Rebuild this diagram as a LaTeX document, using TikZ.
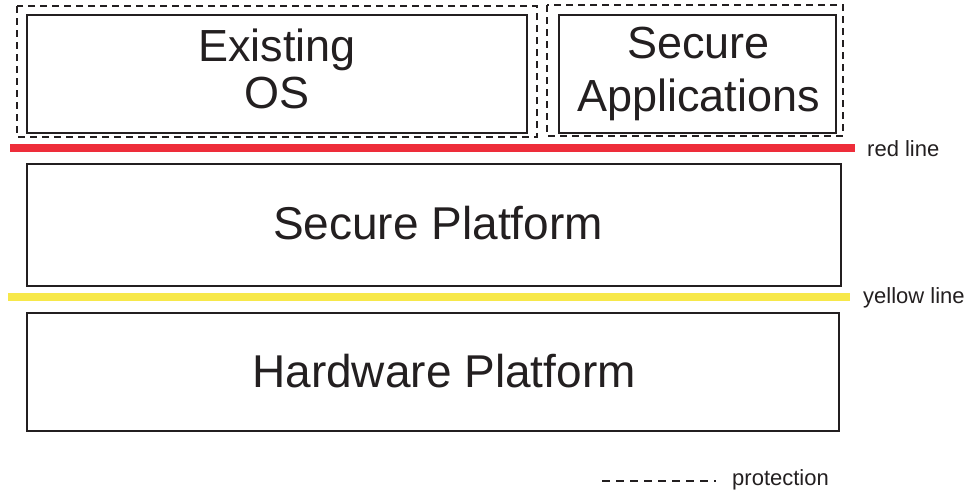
\documentclass[tikz,border=0pt]{standalone}
\usepackage{fontspec}
\setmainfont{Liberation Sans}
\definecolor{ink}{HTML}{231F20}
\definecolor{redbar}{HTML}{EE2D3A}
\definecolor{yellowbar}{HTML}{F7E84A}
\tikzset{
  layerbox/.style={draw=ink, line width=2pt, inner sep=0pt, anchor=north west},
  guard/.style={draw=ink, line width=1.6pt, dash pattern=on 7pt off 5pt},
  bigtext/.style={text=ink, font=\fontsize{45}{47}\selectfont, align=center, inner sep=0pt},
  smalltext/.style={text=ink, font=\fontsize{22}{24}\selectfont, inner sep=0pt, anchor=base west},
  bar/.style={line width=8pt},
}
\begin{document}
\begin{tikzpicture}[x=1pt, y=-1pt]
  \useasboundingbox (0,0) rectangle (968,490);

  % protection domains (dashed)
  \draw[guard] (17,6) rectangle (537,137);
  \draw[guard] (547,5) rectangle (843,136);

  % software on top
  \node[layerbox, minimum width=500pt, minimum height=118pt] (os) at (26,14) {};
  \node[bigtext, yshift=5.5pt] (ostext) at (os.center) {Existing\\OS};

  \node[layerbox, minimum width=277pt, minimum height=118pt] (apps) at (558,14) {};
  \node[bigtext, font=\fontsize{45}{53}\selectfont, yshift=0.5pt, xshift=1pt] (appstext) at (apps.center) {Secure\\Applications};

  % red line
  \coordinate (redL) at (10,148);
  \coordinate (redR) at (855,148);
  \draw[bar, redbar] (redL) -- (redR);
  \node[smalltext] (redlbl) at (867,156) {red line};

  % secure platform
  \node[layerbox, minimum width=814pt, minimum height=122pt] (sp) at (26,163) {};
  \node[bigtext, font=\fontsize{46}{48}\selectfont] (sptext) at (438,223) {Secure Platform};

  % yellow line
  \coordinate (yelL) at (8,297);
  \coordinate (yelR) at (850,297);
  \draw[bar, yellowbar] (yelL) -- (yelR);
  \node[smalltext] (yellbl) at (863,303) {yellow line};

  % hardware platform
  \node[layerbox, minimum width=812pt, minimum height=118pt] (hw) at (26,312) {};
  \node[bigtext, font=\fontsize{46}{48}\selectfont] (hwtext) at (444,371) {Hardware Platform};

  % legend
  \coordinate (legA) at (602,481);
  \coordinate (legB) at (716,481);
  \draw[draw=ink, line width=1.4pt, dash pattern=on 8pt off 6pt] (legA) -- (legB);
  \node[smalltext] (leglbl) at (732,485) {protection};
\end{tikzpicture}
\end{document}
